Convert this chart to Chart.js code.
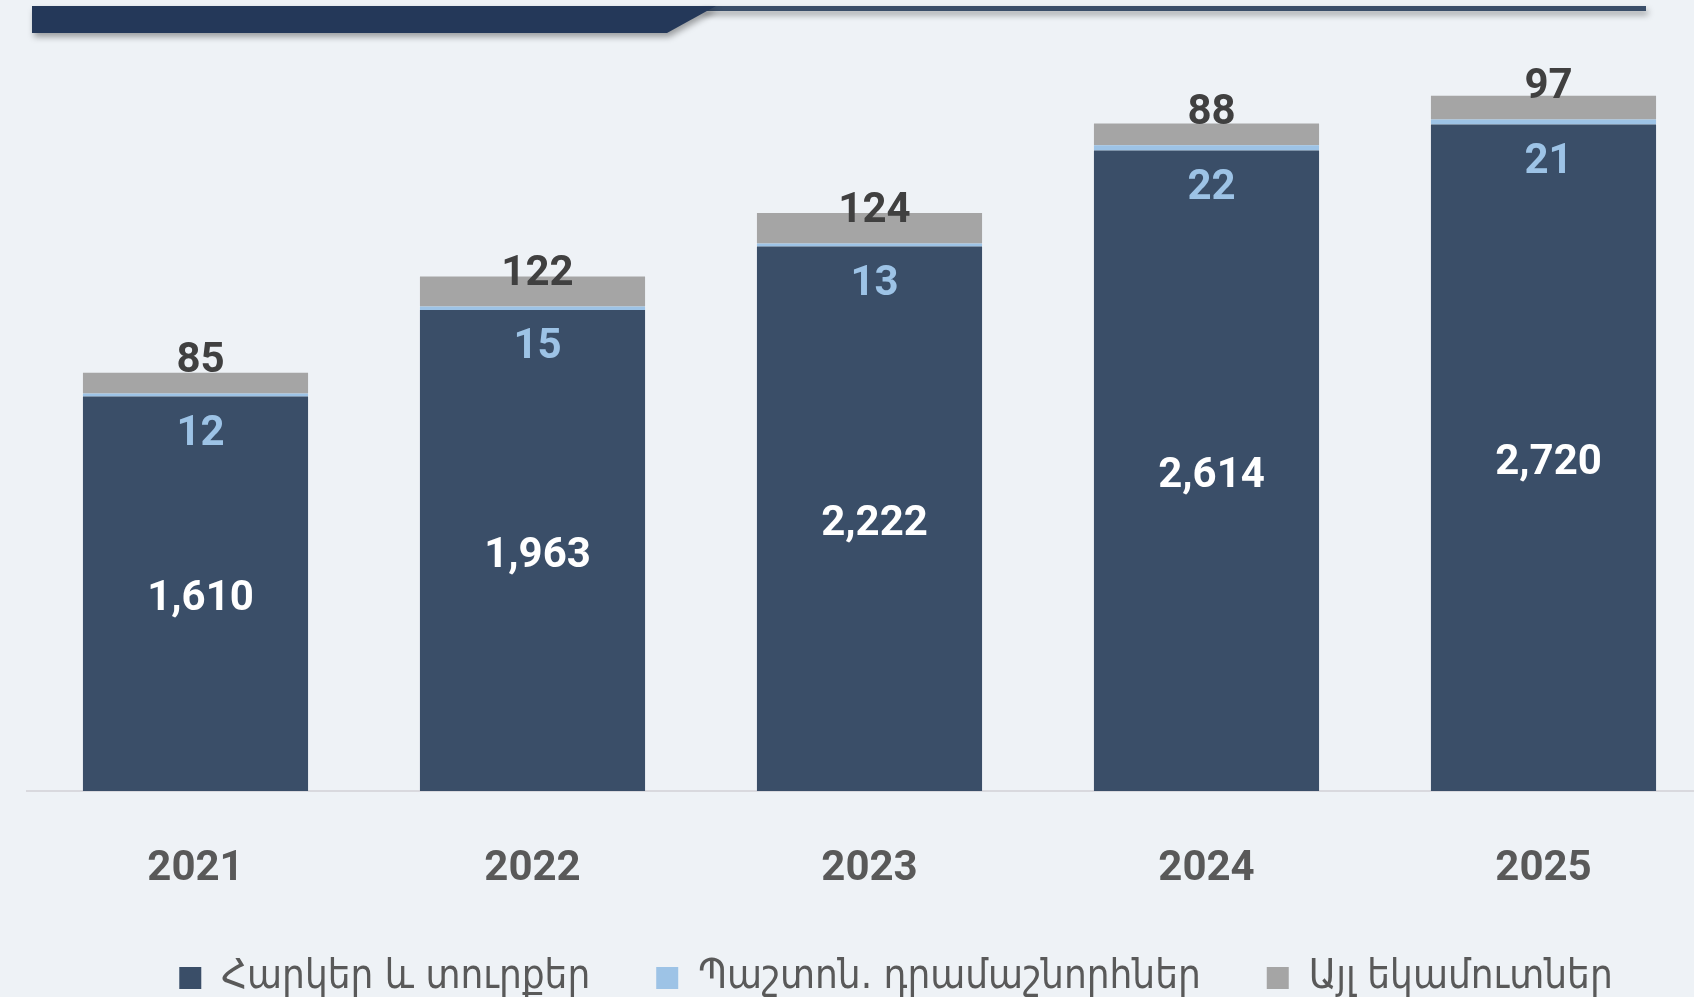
<!DOCTYPE html>
<html>
<head>
<meta charset="utf-8">
<script src="https://cdn.jsdelivr.net/npm/chart.js@4.4.1/dist/chart.umd.min.js"></script>
<style>
  html, body { margin: 0; padding: 0; background: #eef2f6; overflow: hidden; }
  #wrap { width: 1694px; height: 997px; overflow: hidden; position: relative; }
  canvas { display: block; }
</style>
</head>
<body>
<div id="wrap"><canvas id="revenueChart" width="1765" height="997"></canvas></div>
<script>
// Revenue structure by year (values as printed on the bars)
const years = ['2021', '2022', '2023', '2024', '2025'];
const taxes = [1610, 1963, 2222, 2614, 2720];   // Հարկեր և տուրքեր
const grants = [12, 15, 13, 22, 21];            // Պաշտոն. դրամաշնորհներ
const other = [85, 122, 124, 88, 97];           // Այլ եկամուտներ
const seriesNames = ['Հարկեր և տուրքեր', 'Պաշտոն. դրամաշնորհներ', 'Այլ եկամուտներ'];

const LABEL_FONT = 'bold 42px Roboto';

// header ribbon across the top of the slide
const headerRibbon = {
    id: 'headerRibbon',
    beforeDraw(chart) {
        const ctx = chart.ctx;
        ctx.save();
        ctx.shadowColor = 'rgba(0, 0, 0, 0.35)';
        ctx.shadowBlur = 6;
        ctx.shadowOffsetX = 2;
        ctx.shadowOffsetY = 4;
        // thin line to the right
        ctx.fillStyle = '#3a4e69';
        ctx.fillRect(700, 6, 946, 5);
        // thick band with slanted end
        ctx.fillStyle = '#243859';
        ctx.beginPath();
        ctx.moveTo(32, 6);
        ctx.lineTo(716, 6);
        ctx.lineTo(667, 33);
        ctx.lineTo(32, 33);
        ctx.closePath();
        ctx.fill();
        ctx.restore();
    }
};

// value labels drawn at the bar elements
const valueLabels = {
    id: 'valueLabels',
    afterDatasetsDraw(chart) {
        const ctx = chart.ctx;
        ctx.save();
        ctx.font = LABEL_FONT;
        ctx.textAlign = 'center';
        ctx.textBaseline = 'alphabetic';
        chart.data.datasets.forEach((ds, di) => {
            const meta = chart.getDatasetMeta(di);
            meta.data.forEach((bar, i) => {
                const txt = ds.data[i].toLocaleString('en-US');
                const x = bar.x + 5;
                if (di === 0) {
                    ctx.fillStyle = '#ffffff';
                    ctx.fillText(txt, x, (bar.y + bar.base) / 2 + 16.5);
                } else if (di === 1) {
                    ctx.fillStyle = '#9dc3e6';
                    ctx.fillText(txt, x, bar.base + 48);
                } else {
                    // anchored to the bottom of the grey segment
                    ctx.fillStyle = '#404040';
                    ctx.fillText(txt, x, bar.base - 21.5);
                }
            });
        });
        ctx.restore();
    }
};

const ctx = document.getElementById('revenueChart');
new Chart(ctx, {
    type: 'bar',
    data: {
        labels: years,
        datasets: [
            { label: seriesNames[0], data: taxes, backgroundColor: '#3a4e68' },
            { label: seriesNames[1], data: grants, backgroundColor: '#9dc3e6' },
            { label: seriesNames[2], data: other, backgroundColor: '#a5a5a5' }
        ]
    },
    options: {
        responsive: false,
        animation: false,
        layout: { padding: { top: 56, left: 27, right: 0, bottom: -11 } },
        datasets: {
            bar: { categoryPercentage: 1, barPercentage: 0.668, borderWidth: 0 }
        },
        scales: {
            x: {
                stacked: true,
                grid: { display: false, drawTicks: false },
                border: { display: true, color: '#d9d9de', width: 2 },
                ticks: {
                    color: '#595959',
                    font: { family: 'Roboto', size: 42, weight: 'bold' },
                    padding: 53
                },
                afterFit(scale) { scale.height = 91; }
            },
            y: {
                stacked: true,
                position: 'right',
                min: 0,
                max: 3000,
                grid: { display: false, drawTicks: false },
                border: { display: false },
                ticks: { display: false },
                afterFit(scale) { scale.width = 53; }
            }
        },
        plugins: {
            legend: {
                position: 'bottom',
                title: { display: true, text: '', font: { size: 1, lineHeight: 1 }, padding: { top: 9, bottom: 0 } },
                labels: {
                    boxWidth: 22,
                    boxHeight: 22,
                    padding: 66,
                    color: '#595959',
                    font: { family: '"DejaVu Sans Condensed", "DejaVu Sans", sans-serif', size: 40 }
                }
            },
            tooltip: { enabled: false }
        }
    },
    plugins: [headerRibbon, valueLabels]
});
</script>
</body>
</html>
